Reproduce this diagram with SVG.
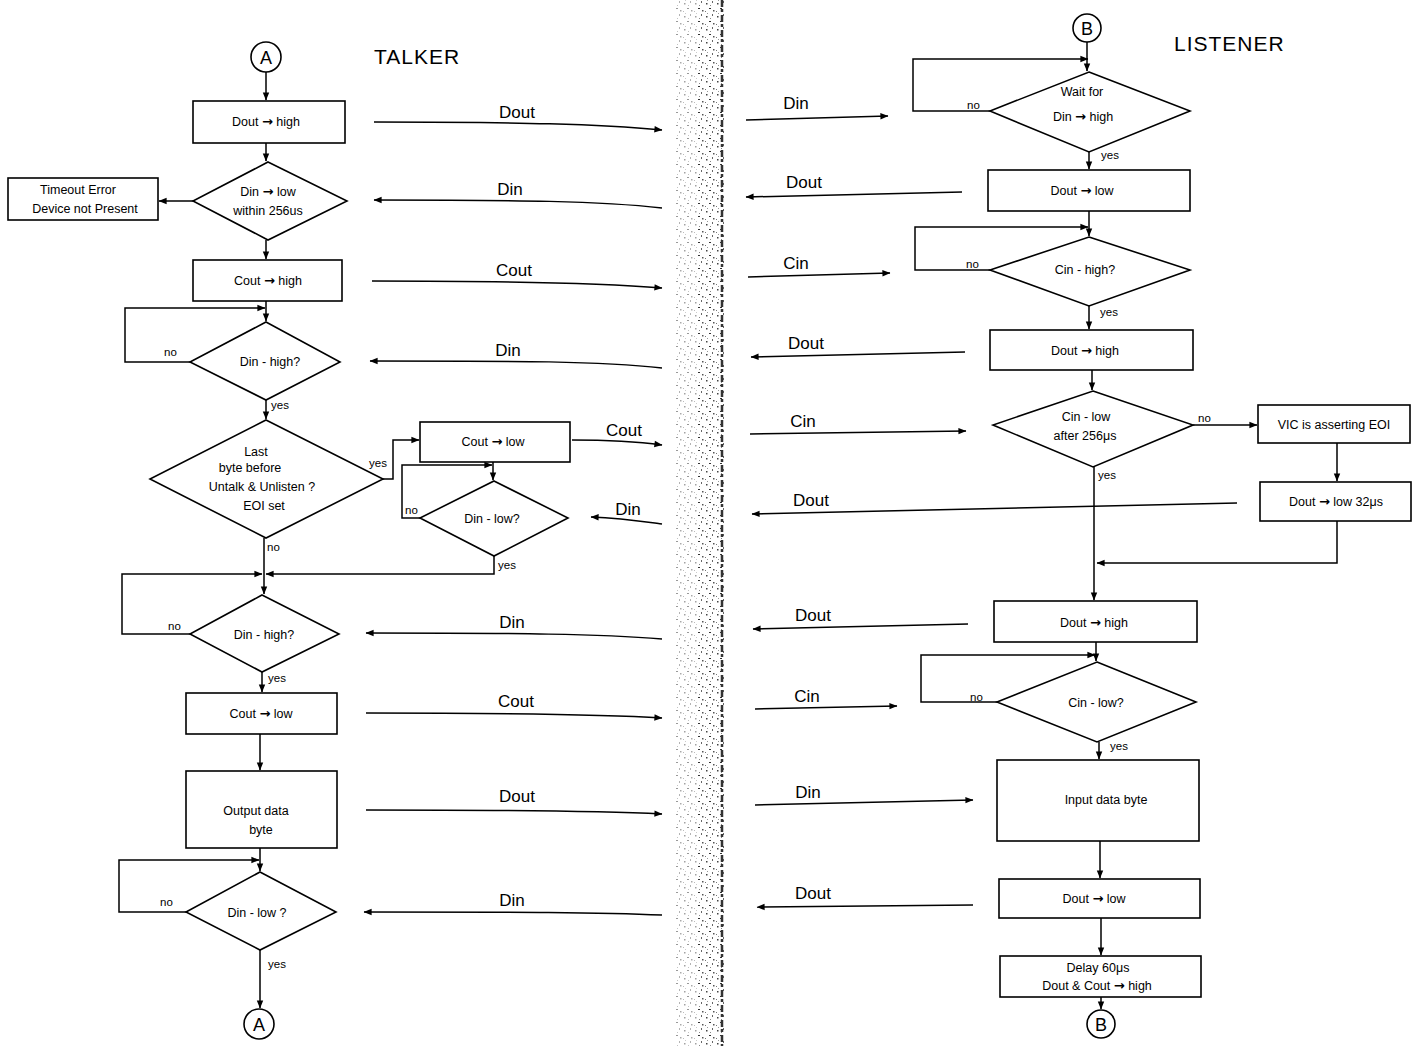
<svg xmlns="http://www.w3.org/2000/svg" width="1421" height="1046" viewBox="0 0 1421 1046">
<defs>
<marker id="ah" viewBox="0 0 10 10" refX="9.5" refY="5" markerWidth="10" markerHeight="8" orient="auto" markerUnits="userSpaceOnUse"><path d="M0,1 L10,5 L0,9 z" fill="#000"/></marker>
<pattern id="speck" width="11" height="13" patternUnits="userSpaceOnUse">
<rect x="2" y="3" width="1.5" height="1.5" fill="#444"/><rect x="8" y="1" width="1" height="2" fill="#666"/><rect x="5" y="8" width="2" height="1" fill="#333"/><rect x="9" y="10" width="1.5" height="1.5" fill="#555"/><rect x="1" y="11" width="1" height="1" fill="#777"/><rect x="6" y="5" width="1" height="1" fill="#888"/><rect x="3" y="0" width="1" height="1" fill="#999"/>
</pattern>
<style>
.s{fill:#fff;stroke:#000;stroke-width:1.6}
.c{fill:none;stroke:#000;stroke-width:1.5}
.t{font-family:"Liberation Sans",Arial,Helvetica,sans-serif;font-size:12.5px;text-anchor:middle;fill:#000}
.ar{font-family:"DejaVu Sans",sans-serif;font-size:13px;font-weight:bold}
.lab{font-family:"Liberation Sans",Arial,Helvetica,sans-serif;font-size:17px;text-anchor:middle;fill:#000}
.yn{font-family:"Liberation Sans",Arial,Helvetica,sans-serif;font-size:11.5px;fill:#000}
.hd{font-family:"Liberation Sans",Arial,Helvetica,sans-serif;font-size:21px;fill:#000;letter-spacing:1px}
.cl{font-family:"Liberation Sans",Arial,Helvetica,sans-serif;font-size:18px;text-anchor:middle;fill:#000}
</style>
</defs>
<rect width="1421" height="1046" fill="#fff"/>
<!-- page gutter (scan) -->
<rect x="676" y="0" width="22" height="1046" fill="url(#speck)" opacity="0.5"/>
<rect x="698" y="0" width="26" height="1046" fill="url(#speck)"/>
<line x1="722" y1="0" x2="722" y2="1046" stroke="#333" stroke-width="2.5" stroke-dasharray="7 2 3 3"/>

<text class="hd" x="374" y="64">TALKER</text>
<text class="hd" x="1174" y="51">LISTENER</text>

<!-- TALKER nodes -->
<g id="A-start"><circle class="s" cx="266" cy="57" r="15"/><text class="cl" x="266" y="64">A</text></g>
<g id="t-dout-high"><rect class="s" x="193" y="101" width="152" height="42"/><text class="t" x="266" y="126">Dout <tspan class="ar">→</tspan> high</text></g>
<g id="t-din-low-256"><polygon class="s" points="268,162 347,201 268,240 193,201"/><text class="t" x="268" y="196">Din <tspan class="ar">→</tspan> low</text><text class="t" x="268" y="215">within 256us</text></g>
<g id="t-timeout"><rect class="s" x="8" y="178" width="150" height="42"/><text class="t" x="78" y="194">Timeout  Error</text><text class="t" x="85" y="213">Device not Present</text></g>
<g id="t-cout-high"><rect class="s" x="193" y="260" width="149" height="41"/><text class="t" x="268" y="285">Cout <tspan class="ar">→</tspan> high</text></g>
<g id="t-din-high-1"><polygon class="s" points="266,322 340,362 266,400 190,362"/><text class="t" x="270" y="366">Din - high?</text></g>
<g id="t-last-byte"><polygon class="s" points="266,420 383,479 266,538 150,479"/><text class="t" x="256" y="456">Last</text><text class="t" x="250" y="472">byte  before</text><text class="t" x="262" y="491">Untalk  &amp;  Unlisten ?</text><text class="t" x="264" y="510">EOI  set</text></g>
<g id="t-cout-low-eoi"><rect class="s" x="420" y="422" width="150" height="40"/><text class="t" x="493" y="446">Cout <tspan class="ar">→</tspan> low</text></g>
<g id="t-din-low-eoi"><polygon class="s" points="494,481 568,518 494,556 420,518"/><text class="t" x="492" y="523">Din - low?</text></g>
<g id="t-din-high-2"><polygon class="s" points="262,595 339,634 262,672 190,634"/><text class="t" x="264" y="639">Din  -  high?</text></g>
<g id="t-cout-low"><rect class="s" x="186" y="693" width="151" height="41"/><text class="t" x="261" y="718">Cout <tspan class="ar">→</tspan> low</text></g>
<g id="t-output"><rect class="s" x="186" y="771" width="151" height="77"/><text class="t" x="256" y="815">Output   data</text><text class="t" x="261" y="834">byte</text></g>
<g id="t-din-low"><polygon class="s" points="260,872 336,912 260,950 186,912"/><text class="t" x="257" y="917">Din - low ?</text></g>
<g id="A-end"><circle class="s" cx="259" cy="1024" r="15"/><text class="cl" x="259" y="1031">A</text></g>

<!-- LISTENER nodes -->
<g id="B-start"><circle class="s" cx="1087" cy="28" r="14"/><text class="cl" x="1087" y="35">B</text></g>
<g id="l-wait-din-high"><polygon class="s" points="1089,72 1190,111 1089,152 990,111"/><text class="t" x="1082" y="96">Wait  for</text><text class="t" x="1083" y="121">Din <tspan class="ar">→</tspan> high</text></g>
<g id="l-dout-low"><rect class="s" x="988" y="170" width="202" height="41"/><text class="t" x="1082" y="195">Dout <tspan class="ar">→</tspan> low</text></g>
<g id="l-cin-high"><polygon class="s" points="1089,237 1190,270 1089,306 990,270"/><text class="t" x="1085" y="274">Cin -  high?</text></g>
<g id="l-dout-high-1"><rect class="s" x="990" y="330" width="203" height="40"/><text class="t" x="1085" y="355">Dout <tspan class="ar">→</tspan> high</text></g>
<g id="l-cin-low-256"><polygon class="s" points="1093,391 1193,425 1093,467 993,425"/><text class="t" x="1086" y="421">Cin - low</text><text class="t" x="1085" y="440">after  256μs</text></g>
<g id="l-vic-eoi"><rect class="s" x="1258" y="405" width="152" height="38"/><text class="t" x="1334" y="429">VIC is asserting EOI</text></g>
<g id="l-dout-low-32"><rect class="s" x="1260" y="482" width="151" height="39"/><text class="t" x="1336" y="506">Dout <tspan class="ar">→</tspan> low   32μs</text></g>
<g id="l-dout-high-2"><rect class="s" x="994" y="601" width="203" height="41"/><text class="t" x="1094" y="627">Dout <tspan class="ar">→</tspan>  high</text></g>
<g id="l-cin-low"><polygon class="s" points="1097,662 1196,702 1097,742 997,702"/><text class="t" x="1096" y="707">Cin  - low?</text></g>
<g id="l-input"><rect class="s" x="997" y="760" width="202" height="81"/><text class="t" x="1106" y="804">Input data byte</text></g>
<g id="l-dout-low-2"><rect class="s" x="999" y="879" width="201" height="39"/><text class="t" x="1094" y="903">Dout <tspan class="ar">→</tspan> low</text></g>
<g id="l-delay"><rect class="s" x="1000" y="956" width="201" height="41"/><text class="t" x="1098" y="972">Delay  60μs</text><text class="t" x="1097" y="990">Dout &amp; Cout <tspan class="ar">→</tspan> high</text></g>
<g id="B-end"><circle class="s" cx="1101" cy="1024" r="14"/><text class="cl" x="1101" y="1031">B</text></g>

<!-- connectors -->
<g id="connectors">
<path class="c" d="M266,72 V100" marker-end="url(#ah)"/>
<path class="c" d="M266,143 V161" marker-end="url(#ah)"/>
<path class="c" d="M193,201 H159" marker-end="url(#ah)"/>
<path class="c" d="M266,240 V259" marker-end="url(#ah)"/>
<path class="c" d="M266,301 V321" marker-end="url(#ah)"/>
<path class="c" d="M190,362 H125 V308 H265" marker-end="url(#ah)"/>
<path class="c" d="M266,400 V419" marker-end="url(#ah)"/>
<path class="c" d="M383,479 H393 V440 H419" marker-end="url(#ah)"/>
<path class="c" d="M493,462 V480" marker-end="url(#ah)"/>
<path class="c" d="M420,518 H402 V465 H492" marker-end="url(#ah)"/>
<path class="c" d="M494,556 V574 H266" marker-end="url(#ah)"/>
<path class="c" d="M264,538 V594" marker-end="url(#ah)"/>
<path class="c" d="M190,634 H122 V574 H262" marker-end="url(#ah)"/>
<path class="c" d="M262,672 V692" marker-end="url(#ah)"/>
<path class="c" d="M260,734 V770" marker-end="url(#ah)"/>
<path class="c" d="M260,848 V871" marker-end="url(#ah)"/>
<path class="c" d="M186,912 H119 V860 H259" marker-end="url(#ah)"/>
<path class="c" d="M260,950 V1008" marker-end="url(#ah)"/>

<path class="c" d="M1087,42 V71" marker-end="url(#ah)"/>
<path class="c" d="M990,111 H913 V59 H1088" marker-end="url(#ah)"/>
<path class="c" d="M1089,152 V169" marker-end="url(#ah)"/>
<path class="c" d="M1089,211 V236" marker-end="url(#ah)"/>
<path class="c" d="M990,270 H915 V227 H1088" marker-end="url(#ah)"/>
<path class="c" d="M1089,306 V329" marker-end="url(#ah)"/>
<path class="c" d="M1092,370 V390" marker-end="url(#ah)"/>
<path class="c" d="M1193,425 H1257" marker-end="url(#ah)"/>
<path class="c" d="M1337,443 V481" marker-end="url(#ah)"/>
<path class="c" d="M1337,521 V563 H1097" marker-end="url(#ah)"/>
<path class="c" d="M1094,467 V600" marker-end="url(#ah)"/>
<path class="c" d="M1096,642 V661" marker-end="url(#ah)"/>
<path class="c" d="M997,702 H921 V655 H1095" marker-end="url(#ah)"/>
<path class="c" d="M1099,742 V759" marker-end="url(#ah)"/>
<path class="c" d="M1100,841 V878" marker-end="url(#ah)"/>
<path class="c" d="M1101,918 V955" marker-end="url(#ah)"/>
<path class="c" d="M1101,997 V1009" marker-end="url(#ah)"/>

<!-- signal lines talker side -->
<path class="c" d="M374,122 C520,122 600,124 662,130" marker-end="url(#ah)"/>
<path class="c" d="M662,208 C600,201 520,200 374,200" marker-end="url(#ah)"/>
<path class="c" d="M372,281 C520,281 600,283 662,288" marker-end="url(#ah)"/>
<path class="c" d="M662,368 C600,361 520,361 370,361" marker-end="url(#ah)"/>
<path class="c" d="M572,440 C620,440 640,442 662,445" marker-end="url(#ah)"/>
<path class="c" d="M662,524 C640,521 620,518 591,517" marker-end="url(#ah)"/>
<path class="c" d="M662,639 C600,634 520,633 366,633" marker-end="url(#ah)"/>
<path class="c" d="M366,713 C520,713 600,714 662,718" marker-end="url(#ah)"/>
<path class="c" d="M366,810 C520,810 600,811 662,814" marker-end="url(#ah)"/>
<path class="c" d="M662,915 C600,912 520,912 364,912" marker-end="url(#ah)"/>

<!-- signal lines listener side -->
<path class="c" d="M746,120 L888,116" marker-end="url(#ah)"/>
<path class="c" d="M962,192 L746,197" marker-end="url(#ah)"/>
<path class="c" d="M748,277 L890,273" marker-end="url(#ah)"/>
<path class="c" d="M965,352 L751,357" marker-end="url(#ah)"/>
<path class="c" d="M750,434 L966,431" marker-end="url(#ah)"/>
<path class="c" d="M1237,503 L752,514" marker-end="url(#ah)"/>
<path class="c" d="M968,624 L753,629" marker-end="url(#ah)"/>
<path class="c" d="M755,709 L897,706" marker-end="url(#ah)"/>
<path class="c" d="M755,805 L973,800" marker-end="url(#ah)"/>
<path class="c" d="M973,905 L757,907" marker-end="url(#ah)"/>
</g>

<!-- connector labels -->
<g id="connector-labels">
<text class="yn" x="164" y="356">no</text>
<text class="yn" x="271" y="409">yes</text>
<text class="yn" x="369" y="467">yes</text>
<text class="yn" x="405" y="514">no</text>
<text class="yn" x="498" y="569">yes</text>
<text class="yn" x="267" y="551">no</text>
<text class="yn" x="168" y="630">no</text>
<text class="yn" x="268" y="682">yes</text>
<text class="yn" x="160" y="906">no</text>
<text class="yn" x="268" y="968">yes</text>
<text class="yn" x="967" y="109">no</text>
<text class="yn" x="1101" y="159">yes</text>
<text class="yn" x="966" y="268">no</text>
<text class="yn" x="1100" y="316">yes</text>
<text class="yn" x="1198" y="422">no</text>
<text class="yn" x="1098" y="479">yes</text>
<text class="yn" x="970" y="701">no</text>
<text class="yn" x="1110" y="750">yes</text>

<text class="lab" x="517" y="118">Dout</text>
<text class="lab" x="510" y="195">Din</text>
<text class="lab" x="514" y="276">Cout</text>
<text class="lab" x="508" y="356">Din</text>
<text class="lab" x="624" y="436">Cout</text>
<text class="lab" x="628" y="515">Din</text>
<text class="lab" x="512" y="628">Din</text>
<text class="lab" x="516" y="707">Cout</text>
<text class="lab" x="517" y="802">Dout</text>
<text class="lab" x="512" y="906">Din</text>

<text class="lab" x="796" y="109">Din</text>
<text class="lab" x="804" y="188">Dout</text>
<text class="lab" x="796" y="269">Cin</text>
<text class="lab" x="806" y="349">Dout</text>
<text class="lab" x="803" y="427">Cin</text>
<text class="lab" x="811" y="506">Dout</text>
<text class="lab" x="813" y="621">Dout</text>
<text class="lab" x="807" y="702">Cin</text>
<text class="lab" x="808" y="798">Din</text>
<text class="lab" x="813" y="899">Dout</text>
</g>
</svg>
